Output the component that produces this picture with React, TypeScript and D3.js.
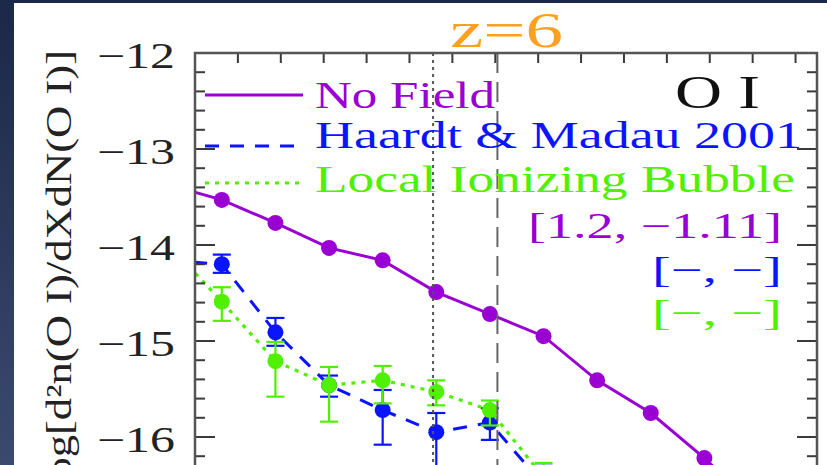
import React from "react";
import * as d3 from "d3";

// Column-density bin centres, log N(O I)
const logN = [12.375, 12.625, 12.875, 13.125, 13.375, 13.625, 13.875, 14.125, 14.375, 14.625, 14.875, 15.125];

// No Field model
const noField = [-13.37, -13.53, -13.77, -14.03, -14.16, -14.49, -14.72, -14.95, -15.41, -15.75, -16.22, -16.75];

// Haardt & Madau 2001 background
const hm01 = [-14.16, -14.2, -14.91, -15.46, -15.72, -15.95, -15.85, -16.5];
const hm01Hi = [-14.07, -14.1, -14.76, -15.36, -15.51, -15.75, -15.7, -16.3];
const hm01Lo = [-14.26, -14.29, -15.05, -15.58, -16.08, -16.35, -16.03, -16.75];

// Local ionizing bubble
const bubble = [-13.99, -14.59, -15.21, -15.46, -15.41, -15.53, -15.72, -16.42];
const bubbleHi = [-13.85, -14.44, -15.01, -15.27, -15.26, -15.41, -15.62, -16.27];
const bubbleLo = [-14.15, -14.79, -15.58, -15.84, -15.65, -15.67, -15.88, -16.6];

// Reference column densities marked by vertical lines
const refDotted = 13.61;
const refDashed = 13.91;

// Fit parameters shown beside the legend
const fitLabels = ["[1.2, \u22121.11]", "[\u2212, \u2212]", "[\u2212, \u2212]"];
const seriesNames = ["No Field", "Haardt & Madau 2001", "Local Ionizing Bubble"];

const W = 827;
const H = 465;
const PURPLE = "#9a00d4";
const BLUE = "#0a14ff";
const GREEN = "#4ff000";
const ORANGE = "#ffa11e";
const FONT = "'Liberation Serif', 'DejaVu Serif', serif";

const x = d3.scaleLinear().domain([12.5, 15.4]).range([195, 817]);
const y = d3.scaleLinear().domain([-12, -16.6]).range([53, 53 + 96 * 4.6]);

const yTicks = d3.range(-83, -59).map((i) => i / 5);
const xTicks = d3.range(127, 155, 2).map((i) => i / 10);
const yMajor = [-12, -13, -14, -15, -16];

type Pt = [number, number];
const toPts = (vals: number[]): Pt[] => vals.map((v, i) => [logN[i], v]);
const line = d3
  .line<Pt>()
  .x((d) => x(d[0]))
  .y((d) => y(d[1]));

function ErrorBars({ vals, hi, lo, color }: { vals: number[]; hi: number[]; lo: number[]; color: string }) {
  return (
    <g stroke={color} strokeWidth={2.2}>
      {vals.map((_, i) => {
        const cx = x(logN[i]);
        return (
          <g key={i}>
            <line x1={cx} x2={cx} y1={y(hi[i])} y2={y(lo[i])} />
            <line x1={cx - 9} x2={cx + 9} y1={y(hi[i])} y2={y(hi[i])} />
            <line x1={cx - 9} x2={cx + 9} y1={y(lo[i])} y2={y(lo[i])} />
          </g>
        );
      })}
    </g>
  );
}

function Markers({ vals, color }: { vals: number[]; color: string }) {
  return (
    <g fill={color}>
      {vals.map((v, i) => (
        <circle key={i} cx={x(logN[i])} cy={y(v)} r={8} />
      ))}
    </g>
  );
}

export default function App() {
  const [x0, x1] = x.range();
  const top = y(-12);
  const bottom = y(-16.6);
  return (
    <svg
      width={W}
      height={H}
      viewBox={`0 0 ${W} ${H}`}
      style={{ position: "absolute", left: 0, top: 0, display: "block" }}
    >
      <defs>
        <linearGradient id="navy" x1="0" y1="0" x2="0" y2="1">
          <stop offset="0" stopColor="#1b2847" />
          <stop offset="1" stopColor="#3a4a6f" />
        </linearGradient>
        <clipPath id="plot">
          <rect x={x0} y={top} width={x1 - x0} height={bottom - top} />
        </clipPath>
      </defs>

      <rect x={0} y={0} width={W} height={H} fill="url(#navy)" />
      <rect x={0} y={0} width={W} height={3} fill="#1b2847" />
      <rect x={14} y={3} width={W - 14} height={H - 3} fill="#ffffff" />

      {/* data */}
      <g clipPath="url(#plot)">
        <path d={line(toPts(noField)) ?? ""} fill="none" stroke={PURPLE} strokeWidth={3} />
        <Markers vals={noField} color={PURPLE} />

        <ErrorBars vals={hm01} hi={hm01Hi} lo={hm01Lo} color={BLUE} />
        <path d={line(toPts(hm01)) ?? ""} fill="none" stroke={BLUE} strokeWidth={3} strokeDasharray="14 11" />
        <Markers vals={hm01} color={BLUE} />

        <ErrorBars vals={bubble} hi={bubbleHi} lo={bubbleLo} color={GREEN} />
        <path d={line(toPts(bubble)) ?? ""} fill="none" stroke={GREEN} strokeWidth={3.2} strokeDasharray="4 6" />
        <Markers vals={bubble} color={GREEN} />

        <line x1={x(refDotted)} x2={x(refDotted)} y1={top} y2={bottom} stroke="#555" strokeWidth={2} strokeDasharray="3 4" />
        <line x1={x(refDashed)} x2={x(refDashed)} y1={top} y2={bottom} stroke="#666" strokeWidth={2} strokeDasharray="20 9" />
      </g>

      {/* frame and ticks */}
      <g stroke="#3a3a3a" strokeWidth={2}>
        {yTicks.map((t) => {
          const len = yMajor.includes(t) ? 20 : 10;
          return (
            <g key={t}>
              <line x1={x0} x2={x0 + len} y1={y(t)} y2={y(t)} />
              <line x1={x1} x2={x1 - len} y1={y(t)} y2={y(t)} />
            </g>
          );
        })}
        {xTicks.map((t) => (
          <line key={t} x1={x(t)} x2={x(t)} y1={top} y2={top + 10} />
        ))}
      </g>
      <path
        d={`M${x0},${H} V${top} H${x1} V${H}`}
        fill="none"
        stroke="#555"
        strokeWidth={2.5}
      />

      {/* y tick labels */}
      <g fontFamily={FONT} fontSize={36} fill="#222" textAnchor="end">
        {yMajor.map((t) => (
          <text key={t} x={175} y={y(t) + 14.5} textLength={78} lengthAdjust="spacingAndGlyphs">
            {"\u2212" + Math.abs(t)}
          </text>
        ))}
      </g>

      {/* y axis title */}
      <text
        transform="translate(71,50) rotate(-90)"
        fontFamily={FONT}
        fontSize={36}
        fill="#222"
        textAnchor="end"
        textLength={442}
        lengthAdjust="spacingAndGlyphs"
      >
        log[d²n(O I)/dXdN(O I)]
      </text>

      {/* redshift label */}
      <text x={450} y={47} fontFamily={FONT} fontSize={50} fill={ORANGE} textLength={113} lengthAdjust="spacingAndGlyphs">
        z=6
      </text>

      {/* ion label */}
      <text x={675} y={108} fontFamily={FONT} fontSize={47} fill="#111" textLength={85} lengthAdjust="spacingAndGlyphs">
        O I
      </text>

      {/* legend */}
      <line x1={205} x2={303} y1={95} y2={95} stroke={PURPLE} strokeWidth={3} />
      <line x1={205} x2={303} y1={146} y2={146} stroke={BLUE} strokeWidth={3} strokeDasharray="14 11" />
      <line x1={205} x2={303} y1={183} y2={183} stroke={GREEN} strokeWidth={3.2} strokeDasharray="4 6" />
      <g fontFamily={FONT} fontSize={37}>
        <text x={315} y={108} fill={PURPLE} textLength={180} lengthAdjust="spacingAndGlyphs">
          {seriesNames[0]}
        </text>
        <text x={315} y={148} fill={BLUE} textLength={487} lengthAdjust="spacingAndGlyphs">
          {seriesNames[1]}
        </text>
        <text x={315} y={192} fill={GREEN} textLength={480} lengthAdjust="spacingAndGlyphs">
          {seriesNames[2]}
        </text>
      </g>

      {/* fit parameters */}
      <g fontFamily={FONT} fontSize={35} textAnchor="end">
        <text x={782} y={238} fill={PURPLE} textLength={254} lengthAdjust="spacingAndGlyphs">
          {fitLabels[0]}
        </text>
        <text x={782} y={282} fill={BLUE} textLength={130} lengthAdjust="spacingAndGlyphs">
          {fitLabels[1]}
        </text>
        <text x={782} y={325} fill={GREEN} textLength={130} lengthAdjust="spacingAndGlyphs">
          {fitLabels[2]}
        </text>
      </g>
    </svg>
  );
}
